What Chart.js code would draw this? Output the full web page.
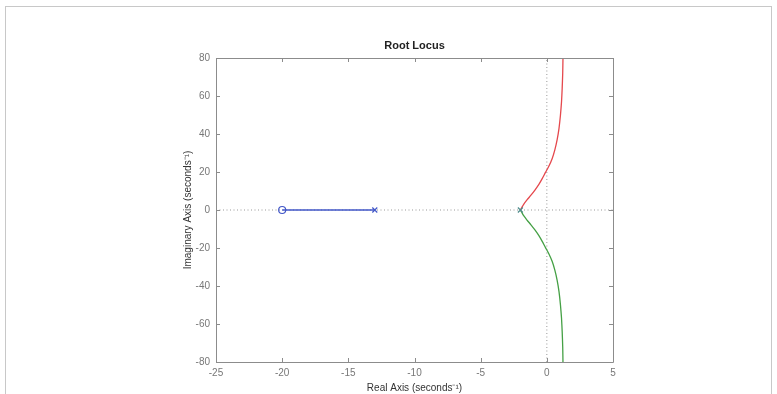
<!DOCTYPE html>
<html>
<head>
<meta charset="utf-8">
<title>Root Locus</title>
<script src="https://cdn.jsdelivr.net/npm/chart.js@4/dist/chart.umd.min.js"></script>
<style>
  html, body { margin: 0; padding: 0; background: #fff; }
  #wrap { position: relative; width: 777px; height: 394px; overflow: hidden; }
  #frame { position: absolute; left: 5px; top: 6px; width: 767px; height: 400px; border: 1px solid #c8c8c8; box-sizing: border-box; }
  canvas { position: absolute; left: 0; top: 0; }
</style>
</head>
<body>
<div id="wrap">
  <div id="frame"></div>
  <canvas id="c" width="777" height="394"></canvas>
</div>
<script>
// Axis ranges and tick spacing
const xTicks = [-25, -20, -15, -10, -5, 0, 5];
const yTicks = [-80, -60, -40, -20, 0, 20, 40, 60, 80];

// Open-loop zero and poles
const zeroReal = [-20];
const poleRealBlue = [-13];
const poleRealPair = [-2];

// Real-axis branch: pole at -13 moving to zero at -20
const blueReal = [-13, -20];
const blueImag = [0, 0];

// Upper complex branch leaving the pole at -2
const redReal = [-2.0, -1.9, -1.75, -1.5, -1.2, -0.9, -0.6, -0.35, -0.1, 0.15, 0.4, 0.6, 0.78, 0.92, 1.03, 1.11, 1.16, 1.2, 1.22];
const redImag = [0, 1.2, 3, 5.3, 7.8, 10.5, 13.5, 16.5, 19.8, 23, 27, 31.5, 37, 43, 50, 57, 64, 72, 80];

// Lower complex branch leaving the pole at -2
const greenReal = [-2.0, -1.9, -1.75, -1.5, -1.2, -0.9, -0.6, -0.35, -0.1, 0.15, 0.4, 0.6, 0.78, 0.92, 1.03, 1.11, 1.16, 1.2, 1.22];
const greenImag = [0, -1.2, -3, -5.3, -7.8, -10.5, -13.5, -16.5, -19.8, -23, -27, -31.5, -37, -43, -50, -57, -64, -72, -80];

const pts = (xs, ys) => xs.map((x, i) => ({ x: x, y: ys[i] }));

const BLUE = '#4257c8';
const RED = '#e5484d';
const GREEN = '#45a045';
const AXIS = '#8c8c8c';

// Box around the plot with inward tick marks on every side
const boxTicks = {
  id: 'boxTicks',
  afterDatasetsDraw(chart) {
    const { ctx, chartArea: a, scales: { x, y } } = chart;
    ctx.save();
    ctx.strokeStyle = AXIS;
    ctx.lineWidth = 1;
    ctx.beginPath();
    ctx.rect(Math.round(a.left) + 0.5, Math.round(a.top) + 0.5, Math.round(a.right - a.left), Math.round(a.bottom - a.top));
    ctx.stroke();
    const L = 4;
    ctx.beginPath();
    xTicks.forEach(v => {
      const px = Math.round(x.getPixelForValue(v)) + 0.5;
      ctx.moveTo(px, a.bottom); ctx.lineTo(px, a.bottom - L);
      ctx.moveTo(px, a.top); ctx.lineTo(px, a.top + L);
    });
    yTicks.forEach(v => {
      const py = Math.round(y.getPixelForValue(v)) + 0.5;
      ctx.moveTo(a.left, py); ctx.lineTo(a.left + L, py);
      ctx.moveTo(a.right, py); ctx.lineTo(a.right - L, py);
    });
    ctx.stroke();
    ctx.restore();
  }
};

const FAMILY = 'Liberation Sans, Arial, sans-serif';
const tickFont = { family: FAMILY, size: 10 };
const labelFont = { family: FAMILY, size: 10 };

new Chart(document.getElementById('c'), {
  type: 'scatter',
  data: {
    datasets: [
      { // imaginary axis guide
        data: [{ x: 0, y: yTicks[0] }, { x: 0, y: yTicks[yTicks.length - 1] }],
        showLine: true, borderColor: '#999', borderWidth: 1, borderDash: [1, 2.5],
        pointRadius: 0, order: 5
      },
      { // real axis guide
        data: [{ x: xTicks[0], y: 0 }, { x: xTicks[xTicks.length - 1], y: 0 }],
        showLine: true, borderColor: '#999', borderWidth: 1, borderDash: [1, 2.5],
        pointRadius: 0, order: 5
      },
      {
        data: pts(blueReal, blueImag), showLine: true, borderColor: BLUE, borderWidth: 1.5,
        pointRadius: 0, order: 2
      },
      {
        data: pts(redReal, redImag), showLine: true, borderColor: RED, borderWidth: 1.3,
        tension: 0.2, pointRadius: 0, order: 2
      },
      {
        data: pts(greenReal, greenImag), showLine: true, borderColor: GREEN, borderWidth: 1.3,
        tension: 0.2, pointRadius: 0, order: 2
      },
      { // zero
        data: zeroReal.map(v => ({ x: v, y: 0 })), pointStyle: 'circle', pointRadius: 3.5,
        borderColor: BLUE, backgroundColor: 'rgba(0,0,0,0)', borderWidth: 1.2, order: 1
      },
      { // poles
        data: poleRealBlue.map(v => ({ x: v, y: 0 })), pointStyle: 'crossRot', pointRadius: 3.5,
        borderColor: BLUE, borderWidth: 1.2, order: 1
      },
      {
        data: poleRealPair.map(v => ({ x: v, y: 0 })), pointStyle: 'crossRot', pointRadius: 3.5,
        borderColor: '#4d8a8a', borderWidth: 1.2, order: 1
      }
    ]
  },
  options: {
    responsive: false,
    animation: false,
    events: [],
    layout: { padding: { top: 0, right: 164, bottom: 0, left: 0 } },
    plugins: {
      legend: { display: false },
      tooltip: { enabled: false },
      title: { display: false }
    },
    scales: {
      x: {
        type: 'linear', min: xTicks[0], max: xTicks[xTicks.length - 1],
        afterBuildTicks: s => { s.ticks = xTicks.map(v => ({ value: v })); },
        afterFit: s => { s.height = 32; },
        grid: { display: false, drawTicks: false },
        border: { display: false },
        ticks: { color: '#777', font: tickFont, padding: 5, maxRotation: 0 },
        title: { display: true, text: 'Real Axis (seconds\u207B\u00B9)', color: '#333', font: labelFont, padding: { top: 0, bottom: 0 } }
      },
      // top axis carries the plot title, centred over the plot box
      top: {
        type: 'linear', position: 'top', min: xTicks[0], max: xTicks[xTicks.length - 1],
        afterFit: s => { s.height = 58; },
        grid: { display: false, drawTicks: false },
        border: { display: false },
        ticks: { display: false },
        title: {
          display: true, text: 'Root Locus', color: '#222',
          font: { family: FAMILY, size: 11, weight: 'bold' },
          padding: { top: 39, bottom: 0 }
        }
      },
      y: {
        type: 'linear', min: yTicks[0], max: yTicks[yTicks.length - 1],
        afterBuildTicks: s => { s.ticks = yTicks.map(v => ({ value: v })); },
        afterFit: s => { s.width = 216; },
        grid: { display: false, drawTicks: false },
        border: { display: false },
        ticks: { color: '#777', font: tickFont, padding: 6 },
        title: { display: true, text: 'Imaginary Axis (seconds\u207B\u00B9)', color: '#333', font: labelFont, padding: { top: 182, bottom: 0 } }
      }
    }
  },
  plugins: [boxTicks]
});
</script>
</body>
</html>
